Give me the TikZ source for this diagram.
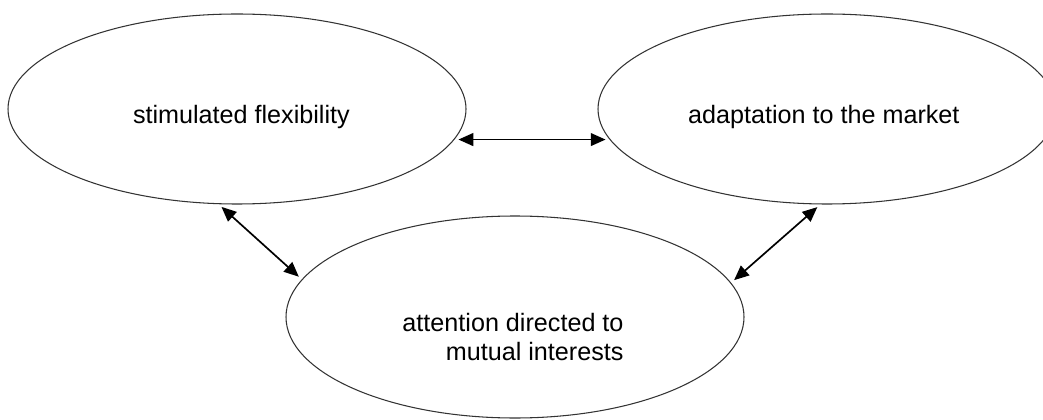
\documentclass[tikz,border=0pt]{standalone}
\usepackage{fontspec}
\setmainfont{Liberation Sans}
\usetikzlibrary{shapes.geometric,arrows.meta}
\tikzset{
	oval node/.style={ellipse, draw=black!80, line width=0.75pt, minimum width=11.45cm, minimum height=4.75cm, inner sep=0},
	oval text/.style={font=\fontsize{17.9}{21.3}\selectfont, align=right, inner sep=0},
	link/.style={{Triangle[length=0.37cm,width=0.32cm]}-{Triangle[length=0.37cm,width=0.32cm]}, line width=1.2pt, shorten <=0.1cm, shorten >=0.1cm},
}

\begin{document}
\begin{tikzpicture}

  \useasboundingbox (0,0) rectangle (26.075,10.475);

  \node(flex)[oval node, label={[oval text, xshift=0.11cm, yshift=-0.21cm]center:stimulated flexibility}] at (5.925,7.75) {};
  \node(market)[oval node, label={[oval text, xshift=-0.08cm, yshift=-0.21cm]center:adaptation to the market}] at (20.675,7.75) {};
  \node(attn)[oval node, minimum height=5.05cm, label={[oval text, xshift=-0.05cm, yshift=-0.5cm]center:attention directed to\\mutual interests}] at (12.875,2.55) {};

  \draw[link] (flex.-8.6) -- (market.188.6);
  \draw[link] (flex.-101.4) -- (attn.170);
  \draw[link] (market.-94.6) -- (attn.9.9);

\end{tikzpicture}
\end{document}
